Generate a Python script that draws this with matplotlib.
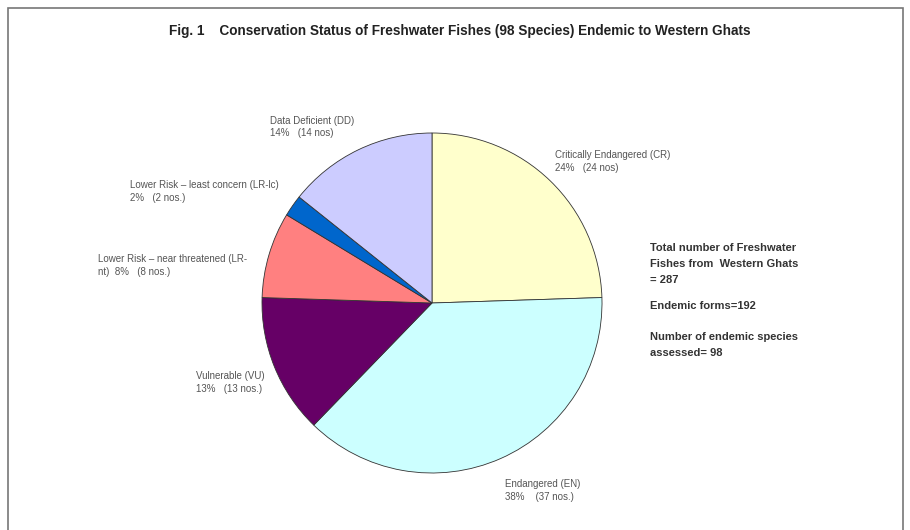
import matplotlib
matplotlib.use("Agg")
import matplotlib.pyplot as plt
from matplotlib.patches import Rectangle

plt.rcParams['font.family'] = ['Liberation Sans', 'DejaVu Sans']

categories = ["Critically Endangered (CR)", "Endangered (EN)", "Vulnerable (VU)",
              "Lower Risk \u2013 near threatened (LR-nt)", "Lower Risk \u2013 least concern (LR-lc)",
              "Data Deficient (DD)"]
counts = [24, 37, 13, 8, 2, 14]
percent_labels = ["24%", "38%", "13%", "8%", "2%", "14%"]
nos_labels = ["(24 nos)", "(37 nos.)", "(13 nos.)", "(8 nos.)", "(2 nos.)", "(14 nos)"]
colors = ["#FFFFCC", "#CCFFFF", "#660066", "#FF8080", "#0066CC", "#CCCCFF"]

W, H = 910, 530
fig = plt.figure(figsize=(W / 100, H / 100), dpi=100)
fig.patch.set_facecolor("white")

# frame
fig.add_artist(Rectangle((8 / W, -0.01), (903 - 8) / W, (H - 8) / H + 0.01,
                         transform=fig.transFigure, fill=False, edgecolor="#777777", lw=1.2))

cx, cy, r = 432, 303, 170
ax = fig.add_axes([(cx - r) / W, (H - cy - r) / H, 2 * r / W, 2 * r / H])
ax.pie(counts, colors=colors, startangle=90, counterclock=False,
       wedgeprops=dict(edgecolor="#333333", linewidth=0.6))
ax.set_xlim(-1, 1)
ax.set_ylim(-1, 1)
ax.set_aspect("auto")
ax.axis("off")

def ftext(x, y, s, **kw):
    fig.text(x / W, 1 - y / H, s, va="center", ha="left", **kw)

lab_kw = dict(fontsize=7.0, color="#555555")
ftext(555, 155, categories[0], **lab_kw)
ftext(555, 168, f"{percent_labels[0]}   {nos_labels[0]}", **lab_kw)
ftext(505, 484, categories[1], **lab_kw)
ftext(505, 497, f"{percent_labels[1]}    {nos_labels[1]}", **lab_kw)
ftext(196, 376, categories[2], **lab_kw)
ftext(196, 389, f"{percent_labels[2]}   {nos_labels[2]}", **lab_kw)
ftext(98, 259, categories[3][:-3], **lab_kw)
ftext(98, 272, f"{categories[3][-3:]}  {percent_labels[3]}   {nos_labels[3]}", **lab_kw)
ftext(130, 185, categories[4], **lab_kw)
ftext(130, 198, f"{percent_labels[4]}   {nos_labels[4]}", **lab_kw)
ftext(270, 121, categories[5], **lab_kw)
ftext(270, 133, f"{percent_labels[5]}   {nos_labels[5]}", **lab_kw)

fig.text(460 / W, 1 - 31 / H,
         "Fig. 1    Conservation Status of Freshwater Fishes (98 Species) Endemic to Western Ghats",
         ha="center", va="center", fontsize=9.8, fontweight="bold", color="#222222")

side_kw = dict(fontsize=8.0, fontweight="bold", color="#333333")
ftext(650, 248, "Total number of Freshwater", **side_kw)
ftext(650, 264, "Fishes from  Western Ghats", **side_kw)
ftext(650, 280, "= 287", **side_kw)
ftext(650, 306, "Endemic forms=192", **side_kw)
ftext(650, 337, "Number of endemic species", **side_kw)
ftext(650, 353, "assessed= 98", **side_kw)

fig.savefig("out.png", dpi=100)
